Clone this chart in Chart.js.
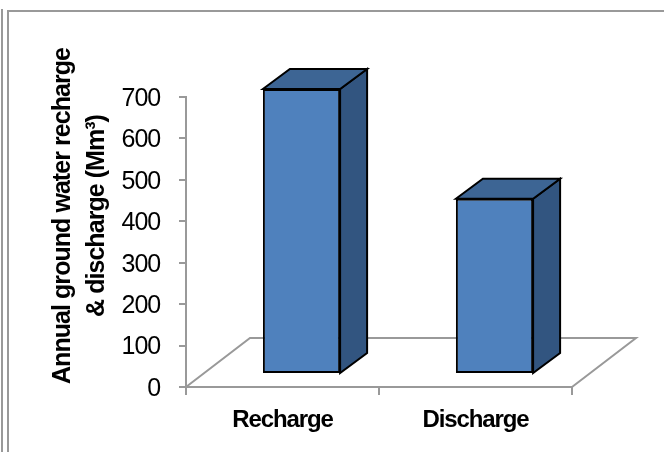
<!DOCTYPE html>
<html>
<head>
<meta charset="utf-8">
<style>
  html, body { margin: 0; padding: 0; background: #fff; }
  #wrap { position: relative; width: 664px; height: 452px; overflow: hidden; }
  #frame { position: absolute; left: 7px; top: 10px; width: 700px; height: 500px; border: 2px solid #999; }
  #outer { position: absolute; left: 1px; top: 9px; width: 2px; height: 500px; background: #999; }
  canvas { position: absolute; left: 0; top: 0; }
</style>
</head>
<body>
<div id="wrap">
  <div id="outer"></div>
  <div id="frame"></div>
  <canvas id="chart" width="664" height="452"></canvas>
</div>
<script src="https://cdn.jsdelivr.net/npm/chart.js@4/dist/chart.umd.min.js"></script>
<script>
const categories = ['Recharge', 'Discharge'];
const groundWater = [688, 423];
const titleLines = ['Annual ground water recharge', '& discharge (Mm³)'];

const FONT = '"Liberation Sans", Arial, sans-serif';
const FRONT_SHIFT = { x: 19, y: -13 };
const BAR_DEPTH = { x: 27, y: -20 };
const FLOOR_DEPTH = { x: 64, y: -49 };

function poly(ctx, pts) {
    ctx.beginPath();
    pts.forEach((p, i) => (i ? ctx.lineTo(p[0], p[1]) : ctx.moveTo(p[0], p[1])));
    ctx.closePath();
}

const box3d = {
    id: 'box3d',
    beforeDraw(chart) {
        // the reference text is tall and tight
        chart.ctx.letterSpacing = '-1.1px';
    },
    beforeDatasetsDraw(chart) {
        const { ctx, chartArea: a } = chart;
        ctx.save();
        // floor
        ctx.strokeStyle = '#999';
        ctx.lineWidth = 2;
        ctx.beginPath();
        ctx.moveTo(a.left, a.bottom);
        ctx.lineTo(a.left + FLOOR_DEPTH.x, a.bottom + FLOOR_DEPTH.y);
        ctx.lineTo(a.right + FLOOR_DEPTH.x, a.bottom + FLOOR_DEPTH.y);
        ctx.lineTo(a.right, a.bottom);
        ctx.stroke();

        // top and side faces of each bar
        ctx.strokeStyle = '#000';
        ctx.lineWidth = 2;
        ctx.lineJoin = 'miter';
        chart.getDatasetMeta(0).data.forEach((bar) => {
            const l = bar.x - bar.width / 2 + FRONT_SHIFT.x;
            const r = bar.x + bar.width / 2 + FRONT_SHIFT.x;
            const t = bar.y + FRONT_SHIFT.y;
            const b = bar.base + FRONT_SHIFT.y;
            const dx = BAR_DEPTH.x;
            const dy = BAR_DEPTH.y;
            poly(ctx, [[r, t], [r + dx, t + dy], [r + dx, b + dy], [r, b]]);
            ctx.fillStyle = '#325580';
            ctx.fill();
            ctx.stroke();
            poly(ctx, [[l, t], [l + dx, t + dy], [r + dx, t + dy], [r, t]]);
            ctx.fillStyle = '#3d6594';
            ctx.fill();
            ctx.stroke();
        });
        ctx.restore();

        // the front faces are the library's own bars, moved onto the floor
        ctx.save();
        ctx.translate(FRONT_SHIFT.x, FRONT_SHIFT.y);
    },
    afterDatasetsDraw(chart) {
        chart.ctx.restore();
    },
    afterDraw(chart) {
        const { ctx } = chart;
        ctx.save();
        ctx.fillStyle = '#000';
        ctx.font = 'bold 25px ' + FONT;
        ctx.letterSpacing = '-0.95px';
        ctx.textAlign = 'center';
        ctx.textBaseline = 'middle';
        ctx.translate(0, 216);
        ctx.rotate(-Math.PI / 2);
        ctx.fillText(titleLines[0], 0, 63);
        ctx.fillText(titleLines[1], 0, 97);
        ctx.restore();
    },
};

new Chart(document.getElementById('chart').getContext('2d'), {
    type: 'bar',
    data: {
        labels: categories,
        datasets: [{
            data: groundWater,
            backgroundColor: '#4f81bd',
            borderColor: '#000',
            borderWidth: 2,
            borderSkipped: false,
            barPercentage: 0.4,
            categoryPercentage: 1,
            clip: false,
        }],
    },
    options: {
        responsive: false,
        animation: false,
        layout: { padding: { top: 97, right: 92, left: 0, bottom: 0 } },
        plugins: { legend: { display: false }, tooltip: { enabled: false } },
        scales: {
            x: {
                afterFit: (s) => { s.height = 65; },
                grid: { drawOnChartArea: false, color: '#999', lineWidth: 2, tickLength: 8, offset: true },
                border: { color: '#999', width: 2 },
                ticks: { color: '#000', font: { family: FONT, size: 24, weight: 'bold' }, padding: 11, maxRotation: 0 },
            },
            y: {
                min: 0,
                max: 700,
                afterFit: (s) => { s.width = 186; },
                grid: { drawOnChartArea: false, color: '#999', lineWidth: 2, tickLength: 7 },
                border: { color: '#999', width: 2 },
                ticks: { color: '#000', stepSize: 100, font: { family: FONT, size: 25 }, padding: 19, labelOffset: 2 },
            },
        },
    },
    plugins: [box3d],
});
</script>
</body>
</html>
